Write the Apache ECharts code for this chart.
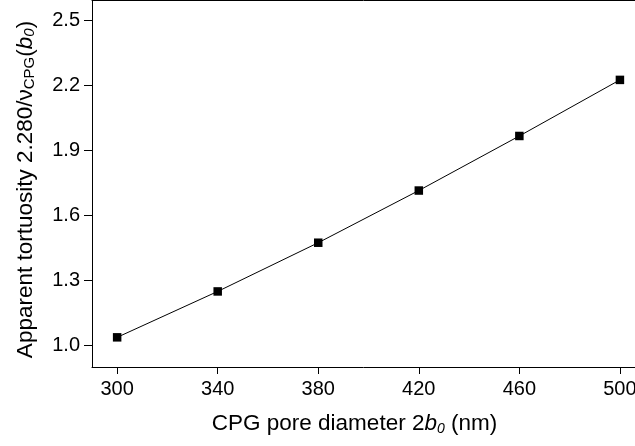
<!DOCTYPE html>
<html><head><meta charset="utf-8">
<script src="https://cdn.jsdelivr.net/npm/echarts@6/dist/echarts.min.js"></script>
<style>html,body{margin:0;padding:0;background:#fff}#c{width:635px;height:446px}</style>
</head><body><div id="c"></div>
<script>
const poreDiameter = [300, 340, 380, 420, 460, 500];
const tortuosity = [1.037, 1.249, 1.474, 1.715, 1.967, 2.226];
const xTicks = [300, 340, 380, 420, 460, 500];
const yTicks = [1.0, 1.3, 1.6, 1.9, 2.2, 2.5];

const font = 'Liberation Sans, Arial, sans-serif';
const chart = echarts.init(document.getElementById('c'));
chart.setOption({
  animation: false,
  backgroundColor: '#fff',
  grid: { left: 92, right: 0, top: 0, bottom: 79, show: false, containLabel: false, outerBoundsMode: 'none' },
  xAxis: [{
    type: 'value', min: 290, max: 506,
    axisLine: { show: true, onZero: false, lineStyle: { color: '#000', width: 1 } },
    axisTick: { show: true, inside: false, length: 7, customValues: xTicks, lineStyle: { color: '#000' } },
    axisLabel: { customValues: xTicks, color: '#000', fontSize: 20, fontFamily: font, margin: 12, hideOverlap: false, formatter: v => String(v) },
    splitLine: { show: false },
    name: '{n|CPG pore diameter 2}{i|b}{s|0}{n| (nm)}',
    nameLocation: 'middle', nameGap: 45,
    nameTextStyle: {
      padding: [0, 18, 0, 0],
      rich: {
        n: { fontSize: 22.5, fontFamily: font, color: '#000' },
        i: { fontSize: 22.5, fontFamily: font, fontStyle: 'italic', color: '#000' },
        s: { fontSize: 14, fontFamily: font, fontStyle: 'italic', color: '#000', verticalAlign: 'bottom', padding: [10, 0, 0, 0] }
      }
    }
  }, {
    type: 'value', min: 290, max: 506, position: 'top',
    axisLine: { show: true, onZero: false, lineStyle: { color: '#000', width: 1 } },
    axisTick: { show: false }, axisLabel: { show: false }, splitLine: { show: false }
  }],
  yAxis: {
    type: 'value', min: 0.9, max: 2.595,
    axisLine: { show: true, onZero: false, lineStyle: { color: '#000', width: 1 } },
    axisTick: { show: true, inside: false, length: 8, customValues: yTicks, lineStyle: { color: '#000' } },
    axisLabel: { customValues: yTicks, color: '#000', fontSize: 20, fontFamily: font, margin: 12, formatter: v => v.toFixed(1) },
    splitLine: { show: false },
    name: '{n|Apparent tortuosity 2.280/ν}{s|CPG}{n|(}{i|b}{s2|0}{n|)}',
    nameLocation: 'middle', nameGap: 55,
    nameTextStyle: {
      padding: [0, 12, 0, 0],
      rich: {
        n: { fontSize: 22.5, fontFamily: font, color: '#000' },
        i: { fontSize: 22.5, fontFamily: font, fontStyle: 'italic', color: '#000' },
        s: { fontSize: 15, fontFamily: font, color: '#000', verticalAlign: 'bottom', padding: [8, 0, 0, 0] },
        s2: { fontSize: 15, fontFamily: font, fontStyle: 'italic', color: '#000', verticalAlign: 'bottom', padding: [8, 0, 0, 0] }
      }
    }
  },
  series: [{
    type: 'line',
    xAxisIndex: 0,
    data: poreDiameter.map((x, i) => [x, tortuosity[i]]),
    symbol: 'rect', symbolSize: 8.5,
    itemStyle: { color: '#000' },
    lineStyle: { color: '#000', width: 1 }
  }]
});
</script></body></html>
